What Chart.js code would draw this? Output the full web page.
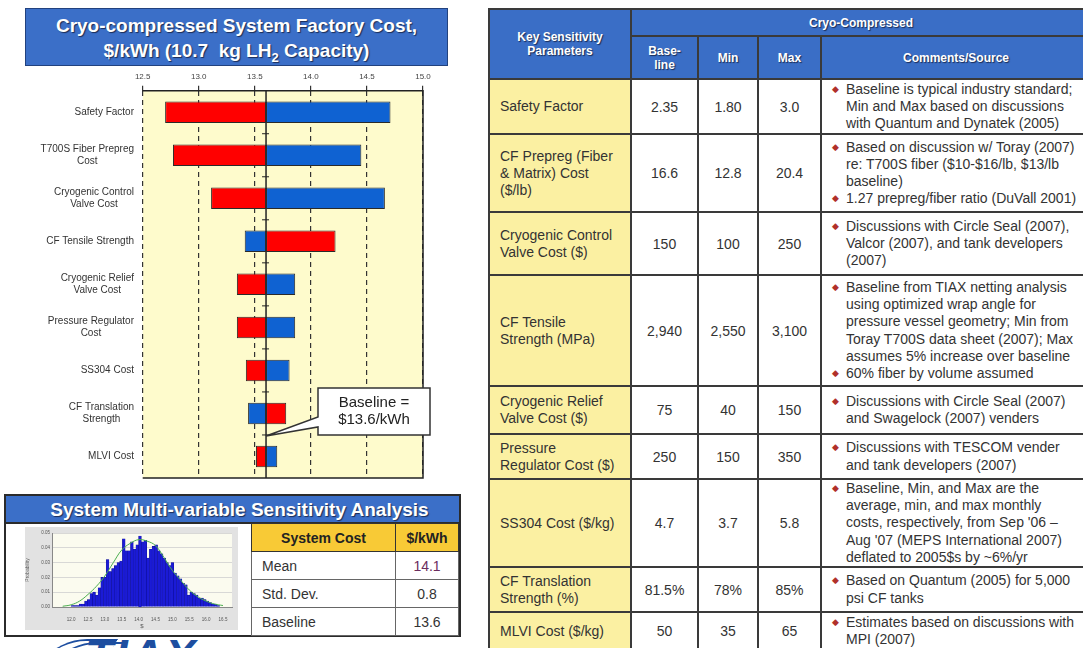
<!DOCTYPE html>
<html>
<head>
<meta charset="utf-8">
<title>Cryo-compressed System Factory Cost</title>
<script src="https://cdn.jsdelivr.net/npm/chart.js@4.4.1/dist/chart.umd.min.js"></script>
<style>
  body { margin:0; width:1083px; height:648px; overflow:hidden; background:#fff; position:relative;
         font-family:Arial,"Liberation Sans",sans-serif; color:#333; }
  .blueTitle { position:absolute; background:#3b6fc8; color:#fff; font-weight:bold; text-align:center;
               text-shadow:1px 1px 1px #1b2c55; box-sizing:border-box; }
  #costTitle { left:25px; top:8px; width:423px; height:58px; border:1px solid #22427e; font-size:19px; line-height:25px; padding-top:4px; }
  #costTitle sub { font-size:13px; line-height:0; }
  #tornadoWrap { position:absolute; left:0; top:66px; width:460px; height:420px; }
  #sensBox { position:absolute; left:4px; top:494px; width:457px; height:143px; border:2px solid #2b2b2b; box-sizing:border-box; }
  #sensTitle { left:0; top:0; width:100%; height:28px; font-size:19px; line-height:27px; padding-left:14px; border-bottom:2px solid #2b2b2b; }
  #histWrap { position:absolute; left:25px; top:527px; width:213px; height:103px; }
  #sysTable { position:absolute; left:251px; top:523px; border-collapse:collapse; font-size:14px; }
  #sysTable th, #sysTable td { padding:0; }
  #sysTable th { background:#f8ca36; color:#222; font-weight:bold; height:27px; border:1px solid #333; }
  #sysTable td { height:27px; border:1px solid #666; color:#333; }
  #sysTable td.lbl { width:133px; padding-left:10px; }
  #sysTable td.val { width:62px; text-align:center; }
  #paramTable { position:absolute; left:488px; top:8px; border-collapse:collapse; table-layout:fixed; width:602px; font-size:14px; }
  #paramTable td, #paramTable th { border:2px solid #3a3a3a; padding:0; vertical-align:middle; }
  #paramTable th { background:#3a6ec6; color:#fff; font-size:12px; font-weight:bold; text-shadow:1px 1px 1px #1b2c55;
                   line-height:14px; text-align:center; }
  #paramTable td.name { background:#fbf0a2; padding-left:10px; line-height:17px; }
  #paramTable td.num { text-align:center; }
  #paramTable td.note { padding-left:24px; line-height:17.2px; white-space:nowrap; }
  .note div { position:relative; }
  .note div::before { content:'\25C6'; position:absolute; left:-14px; top:0; font-size:9px; color:#b0302a; }
  #logo { position:absolute; left:40px; top:637px; width:180px; height:11px; overflow:hidden; }
  #logo span { position:absolute; left:45px; top:-8px; font:italic bold 46px Arial,sans-serif; color:#1d4ea0; letter-spacing:2px; }
  #logo i { position:absolute; left:4px; top:2px; width:60px; height:40px; border-top:2px solid #1d4ea0; border-left:2px solid #1d4ea0; border-radius:50% 0 0 0; transform:skewX(-30deg); }
  #logo i.two { left:14px; top:5px; }
</style>
</head>
<body>

<div id="costTitle" class="blueTitle">Cryo-compressed System Factory Cost,<br>$/kWh (10.7&nbsp; kg LH<sub>2</sub> Capacity)</div>
<div id="tornadoWrap"><canvas id="tornado" width="460" height="420"></canvas></div>

<div id="sensBox"><div id="sensTitle" class="blueTitle">System Multi-variable Sensitivity Analysis</div></div>
<div id="histWrap"><canvas id="hist" width="213" height="103"></canvas></div>
<table id="sysTable"></table>
<div id="logo"><i></i><i class="two"></i><span>TIAX</span></div>

<table id="paramTable">
  <colgroup><col style="width:142px"><col style="width:67px"><col style="width:60px"><col style="width:63px"><col style="width:270px"></colgroup>
  <tr style="height:27px"><th rowspan="2">Key Sensitivity<br>Parameters</th><th colspan="4">Cryo-Compressed</th></tr>
  <tr style="height:43px"><th>Base-<br>line</th><th>Min</th><th>Max</th><th>Comments/Source</th></tr>
</table>

<script>
// tornado chart: system cost ($/kWh) when each parameter is set to its min / max
const costParams = [
  ['Safety Factor'], ['T700S Fiber Prepreg', 'Cost'], ['Cryogenic Control', 'Valve Cost'],
  ['CF Tensile Strength'], ['Cryogenic Relief', 'Valve Cost'], ['Pressure Regulator', 'Cost'],
  ['SS304 Cost'], ['CF Translation', 'Strength'], ['MLVI Cost']
];
const baselineCost = 13.6;
const costAtMin = [12.70, 12.77, 13.11, 14.22, 13.34, 13.34, 13.42, 13.78, 13.51];
const costAtMax = [14.71, 14.45, 14.66, 13.41, 13.86, 13.86, 13.81, 13.44, 13.70];

// parameter table
const paramNames = [
  ['Safety Factor'], ['CF Prepreg (Fiber', '& Matrix) Cost', '($/lb)'], ['Cryogenic Control', 'Valve Cost ($)'],
  ['CF Tensile', 'Strength (MPa)'], ['Cryogenic Relief', 'Valve Cost ($)'], ['Pressure', 'Regulator Cost ($)'],
  ['SS304 Cost ($/kg)'], ['CF Translation', 'Strength (%)'], ['MLVI Cost ($/kg)']
];
const baseVals = ['2.35', '16.6', '150', '2,940', '75', '250', '4.7', '81.5%', '50'];
const minVals = ['1.80', '12.8', '100', '2,550', '40', '150', '3.7', '78%', '35'];
const maxVals = ['3.0', '20.4', '250', '3,100', '150', '350', '5.8', '85%', '65'];
const sourceNotes = [
  [['Baseline is typical industry standard;', 'Min and Max based on discussions', 'with Quantum and Dynatek (2005)']],
  [['Based on discussion w/ Toray (2007)', 're: T700S fiber ($10-$16/lb, $13/lb', 'baseline)'], ['1.27 prepreg/fiber ratio (DuVall 2001)']],
  [['Discussions with Circle Seal (2007),', 'Valcor (2007), and tank developers', '(2007)']],
  [['Baseline from TIAX netting analysis', 'using optimized wrap angle for', 'pressure vessel geometry; Min from',
    'Toray T700S data sheet (2007); Max', 'assumes 5% increase over baseline'], ['60% fiber by volume assumed']],
  [['Discussions with Circle Seal (2007)', 'and Swagelock (2007) venders']],
  [['Discussions with TESCOM vender', 'and tank developers (2007)']],
  [['Baseline, Min, and Max are the', 'average, min, and max monthly', "costs, respectively, from Sep '06 \u2013",
    "Aug '07 (MEPS International 2007)", 'deflated to 2005$s by ~6%/yr']],
  [['Based on Quantum (2005) for 5,000', 'psi CF tanks']],
  [['Estimates based on discussions with', 'MPI (2007)']]
];
const rowHeights = [55, 78, 63, 111, 48, 45, 87, 45, 38];

// multi-variable (Monte Carlo) result
const binCenters = [12.04, 12.12, 12.20, 12.28, 12.36, 12.44, 12.52, 12.60, 12.68, 12.76, 12.84, 12.92, 13.00, 13.08,
  13.16, 13.24, 13.32, 13.40, 13.48, 13.56, 13.64, 13.72, 13.80, 13.88, 13.96, 14.04, 14.12, 14.20, 14.28, 14.36,
  14.44, 14.52, 14.60, 14.68, 14.76, 14.84, 14.92, 15.00, 15.08, 15.16, 15.24, 15.32, 15.40, 15.48, 15.56, 15.64,
  15.72, 15.80, 15.88, 15.96, 16.04, 16.12, 16.20, 16.28, 16.36];
const binProb = [0.001, 0.001, 0.001, 0.002, 0.002, 0.004, 0.005, 0.009, 0.010, 0.008, 0.013, 0.020, 0.020, 0.032,
  0.024, 0.026, 0.028, 0.030, 0.031, 0.046, 0.038, 0.038, 0.044, 0.039, 0.042, 0.048, 0.044, 0.045, 0.033, 0.039,
  0.041, 0.042, 0.038, 0.036, 0.033, 0.030, 0.028, 0.030, 0.023, 0.021, 0.019, 0.016, 0.015, 0.008, 0.010, 0.009,
  0.008, 0.006, 0.006, 0.005, 0.004, 0.003, 0.002, 0.002, 0.001];
const fitX = [11.75, 12.0, 12.25, 12.5, 12.75, 13.0, 13.25, 13.5, 13.75, 14.0, 14.25, 14.5, 14.75, 15.0, 15.25, 15.5, 15.75, 16.0, 16.25, 16.5];
const fitY = [0.0005, 0.0015, 0.004, 0.0085, 0.014, 0.021, 0.030, 0.0385, 0.043, 0.0455, 0.0445, 0.0415, 0.0335, 0.0247, 0.018, 0.0115, 0.007, 0.004, 0.002, 0.001];
const histTicks = [12.0, 12.5, 13.0, 13.5, 14.0, 14.5, 15.0, 15.5, 16.0, 16.5];
const statNames = ['Mean', 'Std. Dev.', 'Baseline'];
const statValues = ['14.1', '0.8', baselineCost.toFixed(1)];

// ---- tables ----
const paramTable = document.getElementById('paramTable');
paramNames.forEach((name, i) => {
  const tr = document.createElement('tr');
  tr.style.height = rowHeights[i] + 'px';
  const notes = sourceNotes[i].map(lines => '<div>' + lines.join('<br>') + '</div>').join('');
  tr.innerHTML = '<td class="name">' + name.join('<br>') + '</td>' +
    '<td class="num">' + baseVals[i] + '</td><td class="num">' + minVals[i] + '</td><td class="num">' + maxVals[i] + '</td>' +
    '<td class="note">' + notes + '</td>';
  paramTable.appendChild(tr);
});

const sysTable = document.getElementById('sysTable');
sysTable.innerHTML = '<tr><th>System Cost</th><th>$/kWh</th></tr>' +
  statNames.map((n, i) => '<tr><td class="lbl">' + n + '</td><td class="val"' + (i === 0 ? ' style="color:#6b2d5e"' : '') + '>' + statValues[i] + '</td></tr>').join('');

// ---- tornado chart ----
const tornadoDecor = {
  id: 'tornadoDecor',
  beforeDraw(chart) {
    const {ctx, chartArea: a} = chart;
    ctx.save();
    ctx.fillStyle = '#fefbcc';
    ctx.fillRect(a.left, a.top, a.right - a.left, a.bottom - a.top);
    ctx.restore();
  },
  beforeDatasetsDraw(chart) {
    const {ctx, chartArea: a, scales: {x, y}} = chart;
    const bx = x.getPixelForValue(baselineCost);
    ctx.save();
    ctx.strokeStyle = '#222';
    ctx.lineWidth = 1.5;
    ctx.beginPath(); ctx.moveTo(bx, a.top); ctx.lineTo(bx, a.bottom); ctx.stroke();
    ctx.lineWidth = 1;
    for (let i = 0; i < costParams.length - 1; i++) {
      const my = (y.getPixelForValue(i) + y.getPixelForValue(i + 1)) / 2;
      ctx.beginPath(); ctx.moveTo(bx - 4, my); ctx.lineTo(bx + 3, my); ctx.stroke();
    }
    ctx.restore();
  },
  afterDatasetsDraw(chart) {
    const {ctx, chartArea: a, scales: {x, y}} = chart;
    ctx.save();
    // frame
    ctx.strokeStyle = '#222';
    ctx.lineWidth = 1.5;
    ctx.beginPath();
    ctx.moveTo(a.left, a.top); ctx.lineTo(a.right, a.top); ctx.lineTo(a.right, a.bottom); ctx.lineTo(a.left, a.bottom);
    ctx.stroke();

    // category labels, right aligned block with centred lines
    ctx.font = '10px Arial, "Liberation Sans", sans-serif';
    ctx.fillStyle = '#333';
    ctx.textAlign = 'center';
    ctx.textBaseline = 'middle';
    chart.data.labels.forEach((lines, i) => {
      const w = Math.max(...lines.map(l => ctx.measureText(l).width));
      const cx = 134 - w / 2;
      const cy = y.getPixelForValue(i);
      lines.forEach((l, k) => ctx.fillText(l, cx, cy + (k - (lines.length - 1) / 2) * 12.5));
    });

    // baseline callout
    const bx = x.getPixelForValue(baselineCost);
    const L = 318, T = 322, R = 430, B = 369;
    ctx.beginPath();
    ctx.moveTo(L, T); ctx.lineTo(R, T); ctx.lineTo(R, B); ctx.lineTo(L, B);
    ctx.lineTo(L, 361); ctx.lineTo(bx, 370); ctx.lineTo(L, 351);
    ctx.closePath();
    ctx.fillStyle = '#fff';
    ctx.fill();
    ctx.strokeStyle = '#333';
    ctx.lineWidth = 1.5;
    ctx.stroke();
    ctx.fillStyle = '#222';
    ctx.font = '15px Arial, "Liberation Sans", sans-serif';
    ctx.fillText('Baseline =', (L + R) / 2, 337);
    ctx.fillText('$' + baselineCost.toFixed(1) + '/kWh', (L + R) / 2, 354);
    ctx.restore();
  }
};

new Chart(document.getElementById('tornado'), {
  type: 'bar',
  data: {
    labels: costParams,
    datasets: [
      { label: 'Min', data: costAtMin.map(v => [baselineCost, v]), backgroundColor: '#ff0000' },
      { label: 'Max', data: costAtMax.map(v => [baselineCost, v]), backgroundColor: '#0f62d2' }
    ]
  },
  options: {
    indexAxis: 'y',
    responsive: false,
    animation: false,
    devicePixelRatio: 1,
    layout: { padding: { right: 37, bottom: 8 } },
    datasets: {
      bar: { grouped: false, barPercentage: 0.5, categoryPercentage: 1, borderColor: '#2a2a2a', borderWidth: 1, borderSkipped: false }
    },
    plugins: { legend: { display: false }, tooltip: { enabled: false } },
    scales: {
      x: {
        position: 'top', min: 12.5, max: 15,
        afterFit: s => { s.height = 24.7; },
        ticks: { stepSize: 0.5, callback: v => v.toFixed(1), color: '#444', padding: 4, font: { size: 8, family: 'Arial' } },
        grid: { color: '#333', lineWidth: 1.2, tickLength: 5, tickColor: '#333', tickBorderDash: [] },
        border: { display: false, dash: [5, 4] }
      },
      y: {
        afterFit: s => { s.width = 142.7; },
        ticks: { display: false },
        grid: { display: false },
        border: { display: false }
      }
    }
  },
  plugins: [tornadoDecor]
});

// ---- histogram ----
const histBg = {
  id: 'histBg',
  beforeDraw(chart) {
    const {ctx, width, height, chartArea: a} = chart;
    ctx.save();
    ctx.fillStyle = '#e2e2e2';
    ctx.fillRect(0, 0, width, height);
    ctx.fillStyle = '#fbfbef';
    ctx.fillRect(a.left, a.top, a.right - a.left, a.bottom - a.top);
    ctx.restore();
  }
};

new Chart(document.getElementById('hist'), {
  type: 'bar',
  data: {
    datasets: [
      { type: 'line', data: fitX.map((v, i) => ({x: v, y: fitY[i]})), borderColor: '#4caf50', borderWidth: 1, pointRadius: 0, tension: 0.4, order: 0 },
      { type: 'bar', data: binCenters.map((v, i) => ({x: v, y: binProb[i]})), backgroundColor: '#1b1bd6', borderColor: '#0d0d8a',
        borderWidth: 0.4, barPercentage: 1, categoryPercentage: 1, order: 1 }
    ]
  },
  options: {
    responsive: false,
    animation: false,
    devicePixelRatio: 1,
    layout: { padding: { top: 6, right: 6 } },
    plugins: { legend: { display: false }, tooltip: { enabled: false } },
    scales: {
      x: {
        type: 'linear', min: 11.7, max: 16.5,
        afterFit: s => { s.height = 23; },
        afterBuildTicks: s => { s.ticks = histTicks.map(v => ({value: v})); },
        ticks: { callback: v => v.toFixed(1), color: '#555', font: { size: 4.5 }, padding: 2, maxRotation: 0, autoSkip: false },
        title: { display: true, text: '$', color: '#555', font: { size: 6 }, padding: 0 },
        grid: { display: false },
        border: { color: '#888' }
      },
      y: {
        min: 0, max: 0.05,
        afterFit: s => { s.width = 27; },
        ticks: { stepSize: 0.01, callback: v => v.toFixed(2), color: '#555', font: { size: 4.5 }, padding: 2 },
        title: { display: true, text: 'Probability', color: '#666', font: { size: 5 }, padding: 0 },
        grid: { color: '#cfcfcf', lineWidth: 0.8, drawTicks: false },
        border: { color: '#888' }
      }
    }
  },
  plugins: [histBg]
});
</script>
</body>
</html>
